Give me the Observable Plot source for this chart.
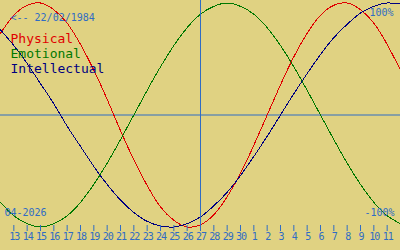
<!DOCTYPE html>
<html>
<head>
<meta charset="utf-8">
<script src="https://cdn.jsdelivr.net/npm/d3@7"></script>
<script src="https://cdn.jsdelivr.net/npm/@observablehq/plot@0.6"></script>
<style>
  html, body { margin: 0; padding: 0; background: #e0d282; }
  #chart svg { display: block; }
</style>
</head>
<body>
<div id="chart"></div>
<script>
// Day labels, from 12 April 2026 to 12 May 2026
const dayLabels = ["12","13","14","15","16","17","18","19","20","21","22","23","24","25","26","27","28","29","30",
                   "1","2","3","4","5","6","7","8","9","10","11","12"];
const tickIndex = [1,2,3,4,5,6,7,8,9,10,11,12,13,14,15,16,17,18,19,20,21,22,23,24,25,26,27,28,29];
const todayIndex = 15;

const physical = [0.73,0.89,0.98,1.00,0.94,0.82,0.63,0.40,0.14,-0.14,-0.40,-0.63,-0.82,-0.94,-1.00,-0.98,
                  -0.89,-0.73,-0.52,-0.27,0.00,0.27,0.52,0.73,0.89,0.98,1.00,0.94,0.82,0.63,0.40];
const emotional = [-0.78,-0.90,-0.97,-1.00,-0.97,-0.90,-0.78,-0.62,-0.43,-0.22,0.00,0.22,0.43,0.62,0.78,0.90,
                   0.97,1.00,0.97,0.90,0.78,0.62,0.43,0.22,0.00,-0.22,-0.43,-0.62,-0.78,-0.90,-0.97];
const intellectual = [0.76,0.62,0.46,0.28,0.10,-0.10,-0.28,-0.46,-0.62,-0.76,-0.87,-0.95,-0.99,-1.00,-0.97,-0.91,
                      -0.81,-0.69,-0.54,-0.37,-0.19,0.00,0.19,0.37,0.54,0.69,0.81,0.91,0.97,1.00,0.99];

const seriesNames = ["Physical", "Emotional", "Intellectual"];
const seriesColors = ["#e00000", "#007800", "#000080"];
const birthLabel = "<-- 22/02/1984";
const monthLabel = "04-2026";
const topLabel = "100%";
const bottomLabel = "-100%";

const blue = "#2f6cc4";
const font = "DejaVu Sans Mono";

const rows = (vals) => vals.map((v, i) => ({i, v}));

const chart = Plot.plot({
  width: 400,
  height: 250,
  marginTop: 0,
  marginLeft: 0,
  marginRight: 0,
  marginBottom: 25,
  style: {background: "#e0d282", fontFamily: font, fontSize: "10px"},
  x: {domain: [0, 30], range: [0, 400], axis: null, label: null},
  y: {domain: [-1, 1], range: [226.5, 2.5], axis: null},
  marks: [
    Plot.ruleY([0], {stroke: blue, strokeWidth: 1}),
    Plot.line(rows(physical), {x: "i", y: "v", stroke: seriesColors[0], strokeWidth: 1, curve: "natural", shapeRendering: "crispEdges"}),
    Plot.line(rows(emotional), {x: "i", y: "v", stroke: seriesColors[1], strokeWidth: 1, curve: "natural", shapeRendering: "crispEdges"}),
    Plot.line(rows(intellectual), {x: "i", y: "v", stroke: seriesColors[2], strokeWidth: 1, curve: "natural", shapeRendering: "crispEdges"}),
    Plot.ruleX([todayIndex], {stroke: blue, strokeWidth: 1}),
    Plot.axisX({
      ticks: tickIndex,
      tickFormat: (i) => dayLabels[i],
      tickSize: 6,
      tickPadding: 1,
      color: blue,
      fontSize: 10,
      fontFamily: font,
      anchor: "bottom",
      label: null
    }),
    Plot.text([birthLabel], {frameAnchor: "top-left", dx: 10, dy: 17, lineAnchor: "middle", textAnchor: "start",
      fill: blue, fontSize: 10, fontFamily: font}),
    Plot.text([topLabel], {frameAnchor: "top-right", dx: -7, dy: 12, lineAnchor: "middle", textAnchor: "end",
      fill: blue, fontSize: 10, fontFamily: font}),
    Plot.text([monthLabel], {frameAnchor: "bottom-left", dx: 4, dy: -12.5, lineAnchor: "middle", textAnchor: "start",
      fill: blue, fontSize: 10, fontFamily: font}),
    Plot.text([bottomLabel], {frameAnchor: "bottom-right", dx: -6, dy: -13, lineAnchor: "middle", textAnchor: "end",
      fill: blue, fontSize: 10, fontFamily: font}),
    ...seriesNames.map((name, k) =>
      Plot.text([name], {frameAnchor: "top-left", dx: 10, dy: 38 + 15 * k, lineAnchor: "middle", textAnchor: "start",
        fill: seriesColors[k], fontSize: 13, fontFamily: font}))
  ]
});

// Tighten day-number labels so neighbours keep a small gap, as in the reference.
chart.querySelectorAll('g[aria-label="x-axis tick label"] text').forEach((t) => {
  t.style.letterSpacing = "-1px";
  t.setAttribute("dx", "0.5");
});

document.getElementById("chart").appendChild(chart);
</script>
</body>
</html>
